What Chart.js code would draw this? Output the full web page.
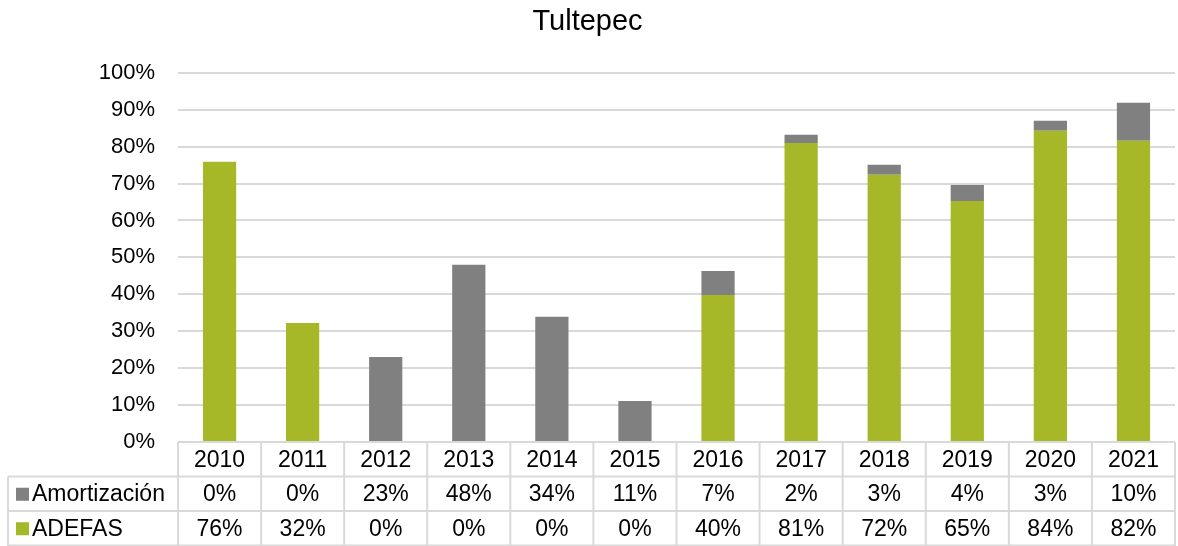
<!DOCTYPE html>
<html>
<head>
<meta charset="utf-8">
<script src="https://cdn.jsdelivr.net/npm/chart.js@4"></script>
<style>
  html, body { margin: 0; padding: 0; background: #fff; }
  #wrap { width: 1178px; height: 546px; position: relative; }
</style>
</head>
<body>
<div id="wrap"><canvas id="chart"></canvas></div>
<script>
const years = ["2010","2011","2012","2013","2014","2015","2016","2017","2018","2019","2020","2021"];
const amortizacion = [0, 0, 23.0, 48.0, 33.9, 11.1, 6.5, 2.2, 2.7, 4.3, 2.7, 10.3];
const adefas = [75.9, 32.2, 0, 0, 0, 0, 39.8, 81.0, 72.4, 65.3, 84.3, 81.6];
const yTicks = [0, 10, 20, 30, 40, 50, 60, 70, 80, 90, 100];

const GREEN = "#a6b727";
const GREY = "#808080";
const LINE = "#d9d9d9";
const FONT = "'Liberation Sans', Arial, sans-serif";

// table under the plot, columns follow the x scale
const dataTable = {
  id: "dataTable",
  afterDraw(chart) {
    const ctx = chart.ctx;
    const x = chart.scales.x;
    const area = chart.chartArea;
    const left = area.left, right = area.right;
    const step = (right - left) / years.length;
    const rowTop = area.bottom;
    const rowH = 34.5;
    const outerLeft = 8;

    ctx.save();
    ctx.strokeStyle = LINE;
    ctx.lineWidth = 2;
    ctx.beginPath();
    // horizontal
    ctx.moveTo(left, rowTop); ctx.lineTo(right, rowTop);
    for (let r = 1; r <= 3; r++) {
      ctx.moveTo(outerLeft, rowTop + r * rowH);
      ctx.lineTo(right, rowTop + r * rowH);
    }
    // vertical
    for (let i = 0; i <= years.length; i++) {
      const vx = left + i * step;
      ctx.moveTo(vx, rowTop); ctx.lineTo(vx, rowTop + 3 * rowH + 2);
    }
    ctx.moveTo(outerLeft, rowTop + rowH); ctx.lineTo(outerLeft, rowTop + 3 * rowH + 2);
    ctx.stroke();

    ctx.fillStyle = "#000";
    ctx.font = "23px " + FONT;
    ctx.textAlign = "center";
    ctx.textBaseline = "middle";
    years.forEach((y, i) => {
      const cx = x.getPixelForValue(i);
      ctx.fillText(y, cx, rowTop + rowH * 0.5 + 1);
      ctx.fillText(Math.round(amortizacion[i]) + "%", cx, rowTop + rowH * 1.5 + 1);
      ctx.fillText(Math.round(adefas[i]) + "%", cx, rowTop + rowH * 2.5 + 1);
    });

    const series = [["Amortización", GREY], ["ADEFAS", GREEN]];
    series.forEach((s, r) => {
      const cy = rowTop + rowH * (r + 1.5);
      ctx.fillStyle = s[1];
      ctx.fillRect(16, cy - 6, 13, 13);
      ctx.fillStyle = "#000";
      ctx.textAlign = "left";
      ctx.fillText(s[0], 32, cy + 1);
    });
    ctx.restore();
  }
};

new Chart(document.getElementById("chart"), {
  type: "bar",
  data: {
    labels: years,
    datasets: [
      { label: "ADEFAS", data: adefas, backgroundColor: GREEN },
      { label: "Amortización", data: amortizacion, backgroundColor: GREY }
    ]
  },
  options: {
    responsive: true,
    maintainAspectRatio: false,
    animation: false,
    layout: { padding: { top: 0, right: 3, bottom: 104, left: 0 } },
    datasets: { bar: { barPercentage: 0.4, categoryPercentage: 1 } },
    plugins: {
      legend: { display: false },
      tooltip: { enabled: false },
      title: {
        display: true,
        text: "Tultepec",
        color: "#000",
        font: { family: FONT, size: 29, weight: "normal" },
        padding: { top: 5, bottom: 33 }
      }
    },
    scales: {
      x: {
        stacked: true,
        display: false
      },
      y: {
        stacked: true,
        min: 0,
        max: 100,
        afterFit(scale) { scale.width = 178; },
        afterBuildTicks(scale) { scale.ticks = yTicks.map(v => ({ value: v })); },
        border: { display: false },
        grid: { color: LINE, lineWidth: 2, drawTicks: false },
        ticks: {
          color: "#000",
          padding: 23,
          font: { family: FONT, size: 22 },
          callback: v => v + "%"
        }
      }
    }
  },
  plugins: [dataTable]
});
</script>
</body>
</html>
